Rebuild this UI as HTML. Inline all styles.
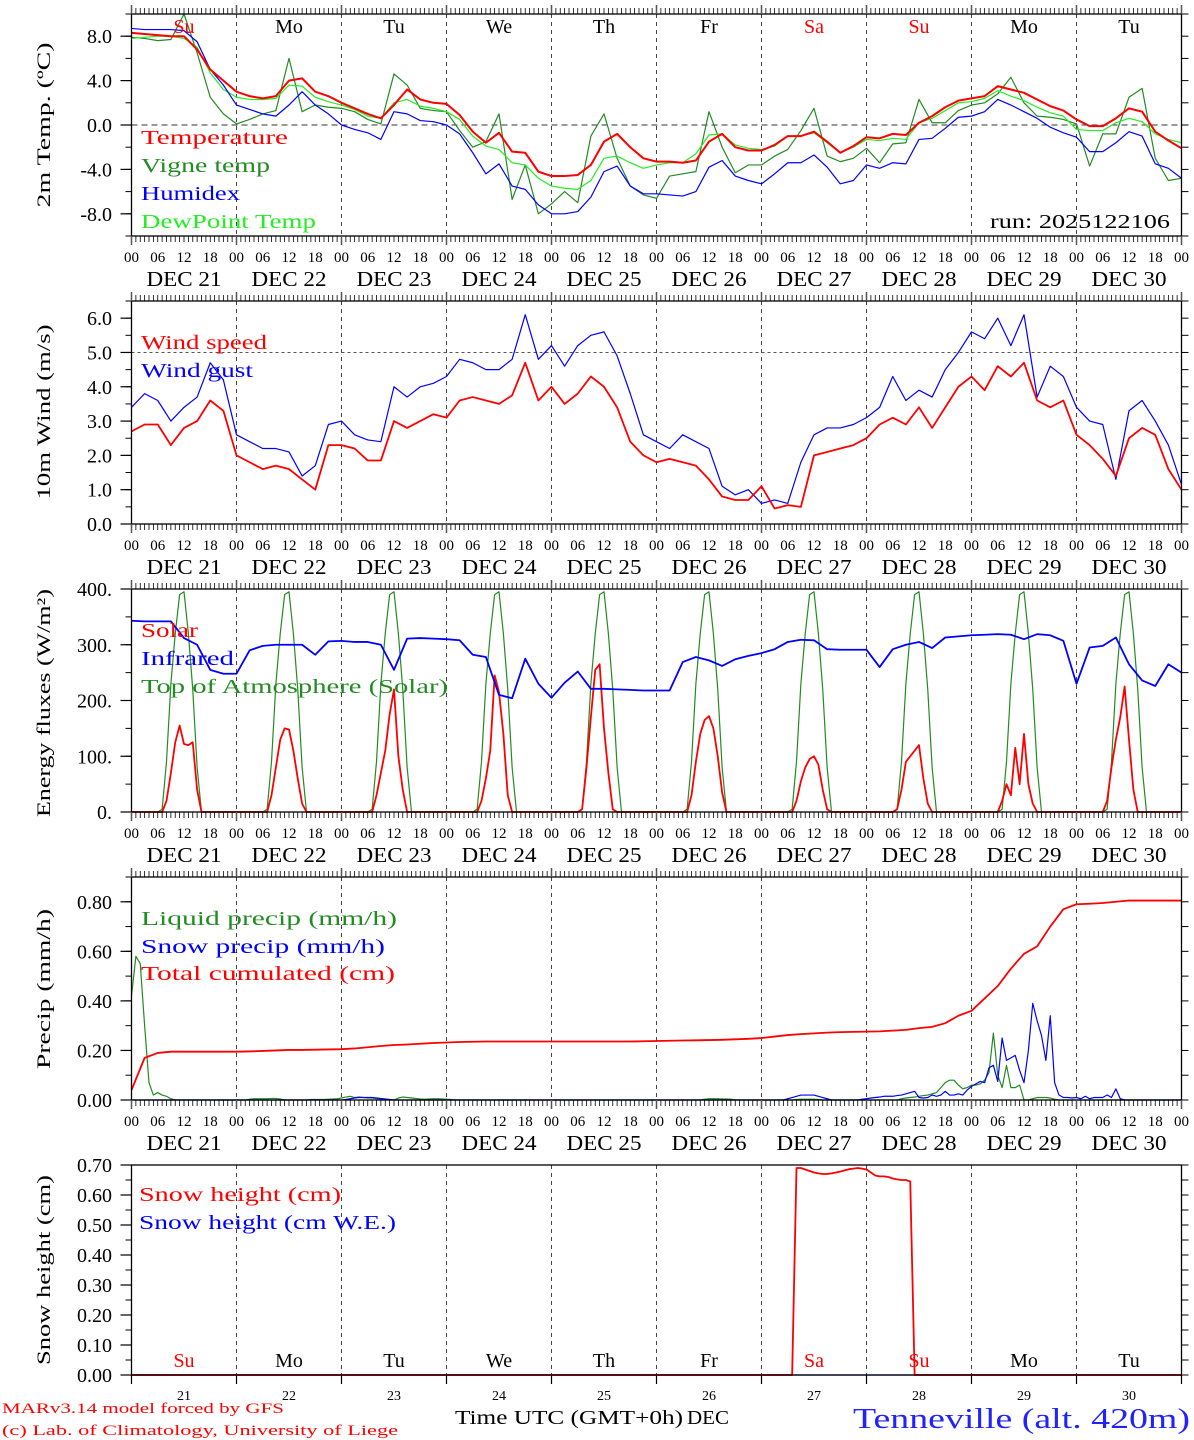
<!DOCTYPE html>
<html><head><meta charset="utf-8"><title>MAR forecast Tenneville</title>
<style>
html,body{margin:0;padding:0;background:#fff;}
svg{display:block;}
text{font-family:"Liberation Serif",serif;}
</style></head>
<body>
<svg id="chart" xmlns="http://www.w3.org/2000/svg" width="1194" height="1440" viewBox="0 0 1194 1440">
<rect x="0" y="0" width="1194" height="1440" fill="#fff"/>
<g id="grid"></g>
<g id="marks"></g>
<g id="axes"></g>
<g id="labels" font-size="20">
  <text transform="translate(50,125) rotate(-90)" text-anchor="middle" font-size="19" textLength="165" lengthAdjust="spacingAndGlyphs">2m Temp. (ºC)</text>
  <text transform="translate(50,412) rotate(-90)" text-anchor="middle" font-size="19" textLength="175" lengthAdjust="spacingAndGlyphs">10m Wind (m/s)</text>
  <text transform="translate(50,703) rotate(-90)" text-anchor="middle" font-size="19" textLength="228" lengthAdjust="spacingAndGlyphs">Energy fluxes (W/m²)</text>
  <text transform="translate(50,989) rotate(-90)" text-anchor="middle" font-size="19" textLength="160" lengthAdjust="spacingAndGlyphs">Precip (mm/h)</text>
  <text transform="translate(50,1270) rotate(-90)" text-anchor="middle" font-size="19" textLength="190" lengthAdjust="spacingAndGlyphs">Snow height (cm)</text>

  <text x="141" y="144" fill="#ff0000" textLength="147" lengthAdjust="spacingAndGlyphs">Temperature</text>
  <text x="141" y="172" fill="#228b22" textLength="129" lengthAdjust="spacingAndGlyphs">Vigne temp</text>
  <text x="141" y="200" fill="#0000ff" textLength="99" lengthAdjust="spacingAndGlyphs">Humidex</text>
  <text x="141" y="228" fill="#22ee22" textLength="175" lengthAdjust="spacingAndGlyphs">DewPoint Temp</text>
  <text x="990" y="228" fill="#000" textLength="180" lengthAdjust="spacingAndGlyphs">run: 2025122106</text>

  <text x="141" y="349" fill="#ff0000" textLength="126" lengthAdjust="spacingAndGlyphs">Wind speed</text>
  <text x="141" y="377" fill="#0000ff" textLength="112" lengthAdjust="spacingAndGlyphs">Wind gust</text>

  <text x="141" y="637" fill="#ff0000" textLength="57" lengthAdjust="spacingAndGlyphs">Solar</text>
  <text x="141" y="665" fill="#0000ff" textLength="93" lengthAdjust="spacingAndGlyphs">Infrared</text>
  <text x="141" y="693" fill="#228b22" textLength="307" lengthAdjust="spacingAndGlyphs">Top of Atmosphere (Solar)</text>

  <text x="141" y="925" fill="#228b22" textLength="256" lengthAdjust="spacingAndGlyphs">Liquid precip (mm/h)</text>
  <text x="141" y="953" fill="#0000ff" textLength="244" lengthAdjust="spacingAndGlyphs">Snow precip (mm/h)</text>
  <text x="141" y="980" fill="#ff0000" textLength="254" lengthAdjust="spacingAndGlyphs">Total cumulated (cm)</text>

  <text x="139" y="1201" fill="#ff0000" textLength="202" lengthAdjust="spacingAndGlyphs">Snow height (cm)</text>
  <text x="139" y="1229" fill="#0000ff" textLength="257" lengthAdjust="spacingAndGlyphs">Snow height (cm W.E.)</text>

  <text x="455" y="1424" font-size="20" textLength="228" lengthAdjust="spacingAndGlyphs">Time UTC (GMT+0h)</text>
  <text x="687" y="1424" font-size="20" textLength="42" lengthAdjust="spacingAndGlyphs">DEC</text>
  <text x="2" y="1413" font-size="15" fill="#ff0000" textLength="282" lengthAdjust="spacingAndGlyphs">MARv3.14 model forced by GFS</text>
  <text x="2" y="1435" font-size="15" fill="#ff0000" textLength="396" lengthAdjust="spacingAndGlyphs">(c) Lab. of Climatology, University of Liege</text>
  <text x="853" y="1428" font-size="28" fill="#2222ff" textLength="337" lengthAdjust="spacingAndGlyphs">Tenneville (alt. 420m)</text>
</g>
</svg>
<script>
// ---------- data (3-hourly unless noted) ----------
const dayNames = ["Su","Mo","Tu","We","Th","Fr","Sa","Su","Mo","Tu"];
const dayRed = [true,false,false,false,false,false,true,true,false,false];
const dateLabels = ["DEC 21","DEC 22","DEC 23","DEC 24","DEC 25","DEC 26","DEC 27","DEC 28","DEC 29","DEC 30"];
const dayNumbers = ["21","22","23","24","25","26","27","28","29","30"];
const hourLabels = ["00","06","12","18"];

const temperature = [8.3,8.2,8.1,8.0,8.0,6.8,5.0,4.0,3.0,
 2.6,2.4,2.6,4.0,4.2,3.0,2.6,2.0,1.5,
 1.0,0.6,1.8,3.2,2.3,2.0,1.9,0.9,-0.6,
 -1.6,-0.7,-2.4,-2.5,-4.2,-4.6,-4.6,-4.5,-3.6,
 -1.5,-0.8,-2.0,-3.0,-3.3,-3.3,-3.4,-3.2,-1.5,
 -0.8,-2.0,-2.3,-2.3,-1.8,-1.0,-1.0,-0.6,-1.5,
 -2.5,-1.9,-1.1,-1.2,-0.8,-0.9,0.2,0.8,1.6,
 2.2,2.4,2.6,3.5,3.2,2.9,2.3,1.7,1.3,
 0.5,-0.1,-0.1,0.6,1.5,1.2,-0.6,-1.4,-2.1];
const vigneTemp = [7.9,7.8,7.6,7.7,10.0,6.5,2.5,1.0,0.1,
 0.5,1.0,1.3,6.0,1.2,1.8,1.6,1.5,1.2,
 0.5,0.1,4.6,3.6,1.5,1.3,1.2,-0.5,-2.0,
 -1.5,1.0,-6.7,-3.6,-8.0,-7.1,-6.0,-7.0,-1.0,
 1.0,-3.0,-5.5,-6.3,-6.6,-4.6,-4.4,-4.2,1.2,
 -2.0,-4.3,-3.6,-3.6,-2.8,-2.2,-0.5,1.5,-2.8,
 -3.3,-3.0,-2.1,-3.4,-1.7,-1.6,2.3,0.2,0.2,
 1.3,1.8,2.0,2.8,4.3,2.0,0.8,0.7,0.5,
 0.1,-3.7,-0.8,-0.8,2.5,3.3,-3.0,-5.0,-4.8];
const humidex = [8.7,8.6,8.6,8.6,8.5,7.5,5.0,3.6,1.8,
 1.4,1.0,0.8,1.8,3.0,1.8,1.0,0.0,-0.4,
 -0.7,-1.3,1.2,1.0,0.4,0.3,0.0,-0.8,-2.5,
 -4.4,-3.5,-5.5,-5.8,-7.2,-8.0,-8.0,-7.8,-6.5,
 -4.2,-3.7,-5.5,-6.2,-6.2,-6.3,-6.4,-6.0,-3.8,
 -3.2,-4.6,-5.0,-5.3,-4.4,-3.4,-3.4,-2.7,-3.8,
 -5.3,-5.0,-3.6,-3.9,-3.4,-3.5,-1.3,-1.2,-0.3,
 0.7,0.8,1.2,2.3,1.8,1.2,0.6,-0.2,-0.7,
 -1.1,-2.4,-2.4,-1.6,-0.6,-1.0,-3.5,-3.9,-4.8];
const dewPoint = [7.8,7.9,8.0,8.0,7.8,7.0,4.7,3.2,2.5,
 2.3,2.3,2.4,3.6,3.5,2.5,2.1,1.8,1.4,
 0.8,0.6,2.0,2.3,1.7,1.5,1.2,0.5,-1.0,
 -1.9,-2.2,-3.4,-3.6,-4.8,-5.5,-5.7,-5.8,-5.0,
 -3.0,-2.8,-3.4,-3.9,-3.6,-3.4,-3.4,-2.6,-0.9,
 -0.8,-1.8,-2.1,-2.2,-1.9,-1.0,-1.0,-0.7,-1.6,
 -2.5,-2.0,-1.3,-1.4,-1.2,-1.3,0.2,0.6,1.3,
 2.0,2.1,2.4,3.1,2.6,2.2,1.6,1.1,0.8,
 -0.4,-0.5,-0.5,0.2,0.6,0.3,-0.8,-1.3,-1.6];

const windSpeed = [2.7,2.9,2.9,2.3,2.8,3.0,3.6,3.3,2.0,
 1.8,1.6,1.7,1.6,1.3,1.0,2.3,2.3,2.2,
 1.85,1.85,3.0,2.8,3.0,3.2,3.1,3.6,3.7,
 3.6,3.5,3.75,4.7,3.6,4.0,3.5,3.8,4.3,
 4.0,3.4,2.4,2.0,1.8,1.9,1.8,1.7,1.3,
 0.8,0.7,0.7,1.1,0.45,0.55,0.5,2.0,2.1,
 2.2,2.3,2.5,2.9,3.1,2.9,3.4,2.8,3.4,
 4.0,4.3,3.9,4.6,4.3,4.7,3.6,3.4,3.6,
 2.6,2.3,1.9,1.4,2.5,2.8,2.6,1.6,1.0];
const windGust = [3.4,3.8,3.6,3.0,3.4,3.7,4.7,4.2,2.6,
 2.4,2.2,2.2,2.1,1.4,1.7,2.9,3.0,2.6,
 2.45,2.4,4.0,3.7,4.0,4.1,4.3,4.8,4.7,
 4.5,4.5,4.8,6.1,4.8,5.2,4.6,5.2,5.5,
 5.6,4.9,3.8,2.6,2.4,2.2,2.6,2.4,2.2,
 1.1,0.85,1.0,0.6,0.7,0.6,1.8,2.6,2.8,
 2.8,2.9,3.1,3.4,4.3,3.6,3.9,3.7,4.5,
 5.0,5.6,5.4,6.0,5.2,6.1,3.7,4.6,4.3,
 3.4,3.0,2.9,1.3,3.3,3.6,3.0,2.3,1.15];

const infrared = [343,342,342,342,312,300,255,248,248,
 290,298,300,300,300,282,306,307,305,
 305,300,255,311,312,311,310,308,282,
 278,210,204,275,230,205,232,252,221,
 221,220,219,218,218,218,269,278,272,
 262,274,280,285,292,305,309,308,292,
 291,291,291,260,292,300,305,294,313,
 315,317,318,319,318,310,319,317,307,
 230,295,298,313,265,236,226,265,250];
// hourly solar for hours 07..16 of each day (W/m2); zero outside
const solarHours = [7,8,9,10,11,12,13,14,15,16];
const solarByDay = [
 [0,20,70,125,155,122,120,125,40,0],
 [0,30,80,130,150,148,110,60,15,0],
 [0,30,70,110,175,220,100,40,0,0],
 [0,20,60,110,245,215,140,30,0,0],
 [5,80,170,255,265,150,70,5,0,0],
 [0,30,90,140,165,172,150,100,35,0],
 [0,20,55,80,95,100,85,40,5,0],
 [5,40,90,100,110,120,60,15,0,0],
 [20,50,30,115,50,140,50,15,0,0],
 [20,80,130,170,225,130,40,0,0,0]];
// hourly top-of-atmosphere solar profile, hours 00..23
const toaProfile = [0,0,0,0,0,0,0,5,90,230,320,390,395,320,220,80,0,0,0,0,0,0,0,0];

// hourly precipitation (mm/h), 241 values
const liquidPrecip = [
 0.42,0.58,0.55,0.30,0.07,0.02,0.03,0.02,0.015,0.005,0,0,0,0,0,0,0,0,0,0,0,0,0,0,
 0,0,0,0.003,0.005,0.005,0.005,0.005,0.006,0.006,0.004,0,0,0,0,0,0,0.002,0.002,0.002,0.002,0.003,0.004,0.005,
 0.008,0.012,0.015,0.01,0.012,0.01,0.008,0.008,0.006,0.004,0.002,0,0,0.008,0.012,0.01,0.008,0.006,0.004,0.003,0.004,0.005,0.005,0.004,
 0.003,0.002,0,0,0,0,0,0,0,0,0,0,0,0,0,0,0,0,0,0,0,0,0,0,
 0,0,0,0,0,0,0,0,0,0,0,0,0,0,0,0,0,0,0,0,0,0,0,0,
 0,0,0,0,0,0,0,0,0,0,0,0.003,0.005,0.005,0.005,0.004,0.004,0.003,0,0,0,0,0,0,
 0,0,0,0,0,0,0,0,0.002,0.003,0.003,0.003,0.003,0.002,0,0,0,0,0,0,0,0,0,0,
 0,0,0,0,0,0,0,0,0.005,0.008,0.01,0.012,0.015,0.018,0.02,0.025,0.03,0.05,0.07,0.08,0.08,0.06,0.045,0.05,
 0.06,0.06,0.065,0.08,0.11,0.27,0.1,0.05,0.14,0.05,0.05,0.06,0,0,0.005,0.01,0.01,0.01,0.008,0.003,0,0,0,0,
 0,0,0,0,0,0,0,0,0,0,0,0,0,0,0,0,0,0,0,0,0,0,0,0,
 0];
const snowPrecip = [
 0,0,0,0,0,0,0,0,0,0,0,0,0,0,0,0,0,0,0,0,0,0,0,0,
 0,0,0,0,0,0,0,0,0,0,0,0,0,0,0,0,0,0,0,0,0,0,0,0,
 0,0.002,0.005,0.008,0.01,0.01,0.01,0.01,0.008,0.006,0.004,0.002,0,0,0,0,0,0,0,0,0,0,0,0,
 0,0,0,0,0,0,0,0,0,0,0,0,0,0,0,0,0,0,0,0,0,0,0,0,
 0,0,0,0,0,0,0,0,0,0,0,0,0,0,0,0,0,0,0,0,0,0,0,0,
 0,0,0,0,0,0,0,0,0,0,0,0,0,0,0,0,0,0,0,0,0,0,0,0,
 0,0,0,0,0,0,0.005,0.01,0.015,0.02,0.02,0.02,0.02,0.015,0.01,0.005,0,0,0,0,0,0,0,0.003,
 0.005,0.008,0.01,0.012,0.015,0.015,0.015,0.018,0.02,0.025,0.03,0.035,0.01,0.008,0.01,0.02,0.015,0.02,0.035,0.02,0.02,0.025,0.02,0.04,
 0.055,0.065,0.075,0.07,0.13,0.14,0.075,0.25,0.16,0.17,0.18,0.12,0.07,0.2,0.39,0.32,0.26,0.16,0.34,0.07,0.02,0.01,0.01,0.008,
 0.01,0.005,0.015,0.005,0.01,0.01,0.01,0.02,0.01,0.045,0.005,0,0,0,0,0,0,0,0,0,0,0,0,0,
 0];
// 3-hourly cumulated total (cm)
const totalCumulated = [0.04,0.17,0.19,0.195,0.195,0.195,0.195,0.195,0.195,
 0.196,0.198,0.2,0.202,0.202,0.203,0.204,0.205,0.208,
 0.213,0.218,0.222,0.224,0.227,0.23,0.232,0.234,0.235,
 0.236,0.236,0.236,0.236,0.236,0.236,0.236,0.236,0.236,
 0.236,0.236,0.236,0.237,0.238,0.239,0.24,0.241,0.242,
 0.243,0.245,0.247,0.25,0.256,0.262,0.266,0.269,0.272,
 0.274,0.275,0.276,0.277,0.28,0.283,0.29,0.295,0.31,
 0.34,0.36,0.41,0.46,0.53,0.59,0.62,0.70,0.77,
 0.79,0.792,0.795,0.8,0.805,0.805,0.805,0.805,0.805];

// hourly snow height (cm), 241 values
const snowHeight = [
 0,0,0,0,0,0,0,0,0,0,0,0,0,0,0,0,0,0,0,0,0,0,0,0,
 0,0,0,0,0,0,0,0,0,0,0,0,0,0,0,0,0,0,0,0,0,0,0,0,
 0,0,0,0,0,0,0,0,0,0,0,0,0,0,0,0,0,0,0,0,0,0,0,0,
 0,0,0,0,0,0,0,0,0,0,0,0,0,0,0,0,0,0,0,0,0,0,0,0,
 0,0,0,0,0,0,0,0,0,0,0,0,0,0,0,0,0,0,0,0,0,0,0,0,
 0,0,0,0,0,0,0,0,0,0,0,0,0,0,0,0,0,0,0,0,0,0,0,0,
 0,0,0,0,0,0,0,0,0.69,0.69,0.685,0.68,0.675,0.672,0.67,0.67,0.672,0.675,0.678,0.682,0.686,0.688,0.69,0.688,
 0.685,0.675,0.665,0.662,0.662,0.66,0.655,0.652,0.65,0.65,0.645,0,0,0,0,0,0,0,0,0,0,0,0,0,
 0,0,0,0,0,0,0,0,0,0,0,0,0,0,0,0,0,0,0,0,0,0,0,0,
 0,0,0,0,0,0,0,0,0,0,0,0,0,0,0,0,0,0,0,0,0,0,0,0,
 0];
// 3-hourly snow water equivalent (cm)
const snowWE = [0,0,0,0,0,0,0,0,0, 0,0,0,0,0,0,0,0,0, 0,0,0,0,0,0,0,0,0,
 0,0,0,0,0,0,0,0,0, 0,0,0,0,0,0,0,0,0, 0,0,0,0,0,0,0,0,0,
 0,0,0,0,0,0,0,0,0, 0,0,0,0,0,0,0,0,0, 0,0,0,0,0,0,0,0,0];

// y-axis ticks
const p1Ticks = [8,4,0,-4,-8];
const p1Labels = ["8.0","4.0","0.0","-4.0","-8.0"];
const p2Ticks = [0,1,2,3,4,5,6];
const p2Labels = ["0.0","1.0","2.0","3.0","4.0","5.0","6.0"];
const p3Ticks = [0,100,200,300,400];
const p3Labels = ["0.","100.","200.","300.","400."];
const p4Ticks = [0,0.2,0.4,0.6,0.8];
const p4Labels = ["0.00","0.20","0.40","0.60","0.80"];
const p5Ticks = [0,0.1,0.2,0.3,0.4,0.5,0.6,0.7];
const p5Labels = ["0.00","0.10","0.20","0.30","0.40","0.50","0.60","0.70"];

// ---------- layout ----------
const NS = "http://www.w3.org/2000/svg";
const X0 = 131.5, X1 = 1181.5, HOURS = 240;
const panels = [
 {top:14, bot:236, min:-10, max:10, minor:2, ticks:p1Ticks, labels:p1Labels, hourAxis:true},
 {top:301, bot:524, min:0, max:6.5, minor:0.5, ticks:p2Ticks, labels:p2Labels, hourAxis:true},
 {top:589, bot:812, min:0, max:400, minor:50, ticks:p3Ticks, labels:p3Labels, hourAxis:true},
 {top:877, bot:1100, min:0, max:0.9, minor:0.1, ticks:p4Ticks, labels:p4Labels, hourAxis:true},
 {top:1165, bot:1375, min:0, max:0.7, minor:0.05, ticks:p5Ticks, labels:p5Labels, hourAxis:false}
];
const xOf = t => X0 + t * (X1 - X0) / HOURS;
const yOf = (p, v) => { const P = panels[p]; return P.bot - (v - P.min) / (P.max - P.min) * (P.bot - P.top); };

const gGrid = document.getElementById("grid");
const gMarks = document.getElementById("marks");
const gAxes = document.getElementById("axes");
const gLab = document.getElementById("labels");

function mk(tag, attrs, parent) {
  const el = document.createElementNS(NS, tag);
  for (const k in attrs) el.setAttribute(k, attrs[k]);
  parent.appendChild(el);
  return el;
}
function line(parent, x1, y1, x2, y2, stroke, w, dash) {
  const a = {x1:x1, y1:y1, x2:x2, y2:y2, stroke:stroke, "stroke-width":w};
  if (dash) a["stroke-dasharray"] = dash;
  return mk("line", a, parent);
}

panels.forEach((P, pi) => {
  const box = mk("rect", {x:X0, y:P.top, width:X1-X0, height:P.bot-P.top, fill:"none", stroke:"#000", "stroke-width":1.3}, gAxes);
  
  
  for (let d = 1; d < 10; d++) {
    const gl = line(gGrid, xOf(d*24), P.top, xOf(d*24), P.bot, "#444", 1, "4,4");
    
    
  }
  const nMin = Math.round((P.max - P.min) / P.minor);
  for (let k = 0; k <= nMin; k++) {
    const v = P.min + k * P.minor, y = yOf(pi, v);
    const tl = line(gAxes, X0 - 6, y, X0, y, "#000", 1);
    
    
    const tr = line(gAxes, X1, y, X1 + 7, y, "#000", 1);
    
    
  }
  P.ticks.forEach((v, i) => {
    const y = yOf(pi, v);
    const tk = line(gAxes, X0 - 11, y, X0, y, "#000", 1.2);
    
    
    const tx = mk("text", {x:112, y:y+7, "text-anchor":"end", "font-size":20}, gLab);
    tx.textContent = P.labels[i];
    
    
  });
  if (P.hourAxis) {
    for (let h = 0; h <= HOURS; h++) {
      const x = xOf(h), len = (h % 24 === 0) ? 9 : 6;
      const c = (h % 24 === 0) ? "#555" : "#000";
      const tb = line(gAxes, x, P.bot, x, P.bot + len, c, h % 24 === 0 ? 1.5 : 0.8);
      
      
      const tt = line(gAxes, x, P.top - len, x, P.top, c, h % 24 === 0 ? 1.5 : 0.8);
      
      
    }
    for (let d = 0; d <= 10; d++) {
      for (let k = 0; k < 4; k++) {
        const h = d*24 + k*6;
        if (h > HOURS) break;
        const hl = mk("text", {x:xOf(h), y:P.bot+26, "text-anchor":"middle", "font-size":15}, gLab);
        hl.textContent = hourLabels[k];
        
        
      }
    }
    dateLabels.forEach((s, d) => {
      const dl = mk("text", {x:xOf(d*24+12), y:P.bot+50, "text-anchor":"middle", "font-size":21, textLength:75, lengthAdjust:"spacingAndGlyphs"}, gLab);
      dl.textContent = s;
      
      
    });
  } else {
    for (let d = 0; d <= 10; d++) {
      const x = xOf(d*24);
      const t1 = line(gAxes, x, P.bot, x, P.bot + 9, "#000", 1.2);
      
      
    }
    dayNumbers.forEach((s, d) => {
      const dn = mk("text", {x:xOf(d*24+12), y:1400, "text-anchor":"middle", "font-size":14}, gLab);
      dn.textContent = s;
      
      
    });
  }
});

const z1 = line(gGrid, X0, yOf(0,0), X1, yOf(0,0), "#333", 1, "6,4");


const z2 = line(gGrid, X0, yOf(1,5), X1, yOf(1,5), "#555", 1, "3,3");



dayNames.forEach((s, d) => {
  const a = mk("text", {x:xOf(d*24+12), y:33, "text-anchor":"middle", "font-size":20, fill: dayRed[d] ? "#ff0000" : "#000"}, gLab);
  a.textContent = s;
  
  
  const b = mk("text", {x:xOf(d*24+12), y:1367, "text-anchor":"middle", "font-size":20, fill: dayRed[d] ? "#ff0000" : "#000"}, gLab);
  b.textContent = s;
  
  
});

// ---------- series ----------
function series(p, arr, step, color, w, name) {
  let d = "";
  arr.forEach((v, i) => { d += (i ? "L" : "M") + xOf(i*step).toFixed(2) + "," + yOf(p, v).toFixed(2); });
  const el = mk("path", {d:d, fill:"none", stroke:color, "stroke-width":w, "stroke-linejoin":"round"}, gMarks);
  
  
  return el;
}
function seriesPts(p, pts, color, w, name) {
  let d = "";
  pts.forEach((q, i) => { d += (i ? "L" : "M") + xOf(q[0]).toFixed(2) + "," + yOf(p, q[1]).toFixed(2); });
  const el = mk("path", {d:d, fill:"none", stroke:color, "stroke-width":w, "stroke-linejoin":"round"}, gMarks);
  
  
  return el;
}

series(0, vigneTemp, 3, "#228b22", 1.2, "vigne-temp-line");
series(0, dewPoint, 3, "#22ee22", 1.2, "dewpoint-line");
series(0, humidex, 3, "#0000ff", 1.2, "humidex-line");
series(0, temperature, 3, "#ff0000", 2, "temperature-line");

series(1, windGust, 3, "#0000ff", 1.2, "wind-gust-line");
series(1, windSpeed, 3, "#ff0000", 1.8, "wind-speed-line");

const toaPts = [];
for (let d = 0; d < 10; d++) toaProfile.forEach((v, h) => toaPts.push([d*24+h, v]));
toaPts.push([HOURS, toaProfile[0]]);
seriesPts(2, toaPts, "#228b22", 1.2, "toa-solar-line");
const solPts = [[0,0]];
solarByDay.forEach((row, d) => {
  solPts.push([d*24 + solarHours[0] - 1, 0]);
  row.forEach((v, k) => solPts.push([d*24 + solarHours[k], v]));
  solPts.push([d*24 + solarHours[solarHours.length-1] + 1, 0]);
});
solPts.push([HOURS, 0]);
seriesPts(2, solPts, "#ff0000", 1.8, "solar-line");
series(2, infrared, 3, "#0000ff", 1.8, "infrared-line");

series(3, liquidPrecip, 1, "#228b22", 1.2, "liquid-precip-line");
series(3, snowPrecip, 1, "#0000ff", 1.2, "snow-precip-line");
series(3, totalCumulated, 3, "#ff0000", 1.8, "total-cumulated-line");

series(4, snowWE, 3, "#0000ff", 1.2, "snow-we-line");
series(4, snowHeight, 1, "#ff0000", 1.8, "snow-height-line");
</script>
</body></html>
